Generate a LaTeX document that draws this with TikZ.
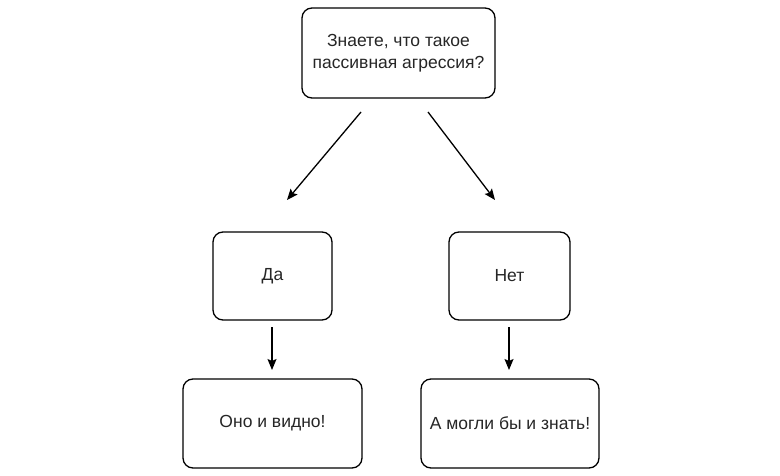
\documentclass[tikz,border=0pt]{standalone}
\usepackage{fontspec}
\setmainfont{Liberation Sans}
\usetikzlibrary{arrows.meta}
\begin{document}
\begin{tikzpicture}[x=1pt,y=-1pt,
  box/.style={draw=black,line width=1.3pt,rounded corners=10pt,fill=white,
    inner sep=0pt,align=center,font=\fontsize{17.5}{21.5}\selectfont,text=black!85},
  arr/.style={line width=1.3pt,-{Stealth[length=11pt,width=9pt,inset=2pt]}}]
\useasboundingbox[fill=white] (0,0) rectangle (780,476);
\node[box,minimum width=193pt,minimum height=90pt] (q) at (398.5,53) {Знаете, что такое\\пассивная агрессия?};
\node[box,minimum width=119pt,minimum height=88pt] (yes) at (272.5,276) {Да};
\node[box,minimum width=121pt,minimum height=88pt] (no) at (509.5,276) {Нет};
\node[box,minimum width=179pt,minimum height=89pt] (a1) at (272.5,423.5) {Оно и видно!};
\node[box,minimum width=178pt,minimum height=89pt] (a2) at (510,423.5) {А могли бы и знать!};
\coordinate (l1) at (361,112);
\coordinate (l2) at (287,200);
\coordinate (r1) at (428,112);
\coordinate (r2) at (495,200);
\coordinate (y1) at (272,327);
\coordinate (y2) at (272,370);
\coordinate (n1) at (509,327);
\coordinate (n2) at (509,370);
\draw[arr] (l1) -- (l2);
\draw[arr] (r1) -- (r2);
\draw[arr] (y1) -- (y2);
\draw[arr] (n1) -- (n2);
\end{tikzpicture}
\end{document}
